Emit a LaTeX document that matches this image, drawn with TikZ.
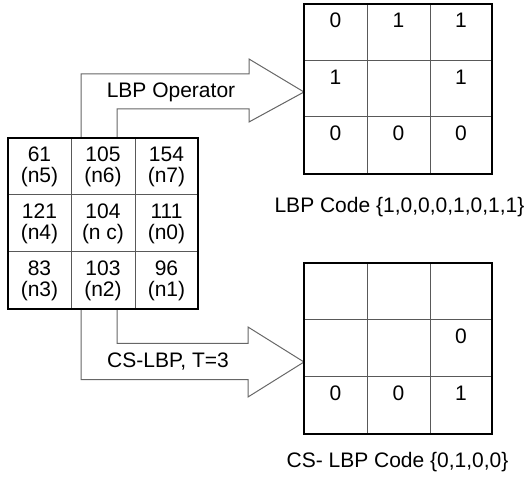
\documentclass[tikz,border=0pt]{standalone}
\usepackage{fontspec}
\setmainfont{Liberation Sans}
\begin{document}
\begin{tikzpicture}[x=1pt,y=-1pt,
  txt/.style={font=\fontsize{21}{21}\selectfont, inner sep=0pt, align=center},
  inner/.style={draw=black!65, line width=1pt},
  outer/.style={draw=black, line width=2.8pt, fill=none},
  blockarrow/.style={draw=black!60, line width=1pt, fill=white, line join=miter}]
\useasboundingbox (0,0) rectangle (528,481);

% ---- block arrows ----
\coordinate (a1l) at (81,138);
\coordinate (a1r) at (117,138);
\coordinate (tip1) at (304,92);
\draw[blockarrow] (a1l) -- (81,74) -- (249,74) -- (249,59) -- (tip1) -- (249,122) -- (249,109) -- (117,109) -- (a1r);
\coordinate (a2l) at (81,309);
\coordinate (a2r) at (117,309);
\coordinate (tip2) at (304,362);
\draw[blockarrow] (a2r) -- (117,343.5) -- (248,343.5) -- (248,327) -- (tip2) -- (248,397) -- (248,379.5) -- (81,379.5) -- (a2l);
\node[txt] (op1) at (171,92) {LBP Operator};
\node[txt] (op2) at (168,362) {CS-LBP, T=3};

% ---- source grid ----
\draw[inner] (71,138) -- (71,309) (135,138) -- (135,309) (8,195) -- (198,195) (8,252) -- (198,252);
\draw[outer] (8,138) rectangle (198,309);
\node[txt] (n5) at (39.5,166.5) {61\\(n5)};
\node[txt] (n6) at (103,166.5) {105\\(n6)};
\node[txt] (n7) at (166.5,166.5) {154\\(n7)};
\node[txt] (n4) at (39.5,223.5) {121\\(n4)};
\node[txt] (nc) at (103,223.5) {104\\(n c)};
\node[txt] (n0) at (166.5,223.5) {111\\(n0)};
\node[txt] (n3) at (39.5,280.5) {83\\(n3)};
\node[txt] (n2) at (103,280.5) {103\\(n2)};
\node[txt] (n1) at (166.5,280.5) {96\\(n1)};

% ---- LBP grid ----
\draw[inner] (367,4) -- (367,174) (430,4) -- (430,174) (304,61) -- (492,61) (304,117) -- (492,117);
\draw[outer] (304,4) rectangle (492,174);
\node[txt] (l11) at (335.5,20.5) {0};
\node[txt] (l12) at (398.5,20.5) {1};
\node[txt] (l13) at (461,20.5) {1};
\node[txt] (l21) at (335.5,77.5) {1};
\node[txt] (l23) at (461,77.5) {1};
\node[txt] (l31) at (335.5,133.5) {0};
\node[txt] (l32) at (398.5,133.5) {0};
\node[txt] (l33) at (461,133.5) {0};
\node[txt] (lbpcode) at (399.5,207) {LBP Code \{1,0,0,0,1,0,1,1\}};

% ---- CS-LBP grid ----
\draw[inner] (367,263) -- (367,434) (430,263) -- (430,434) (304,320) -- (492,320) (304,377) -- (492,377);
\draw[outer] (304,263) rectangle (492,434);
\node[txt] (c23) at (461,336.5) {0};
\node[txt] (c31) at (335.5,393.5) {0};
\node[txt] (c32) at (398.5,393.5) {0};
\node[txt] (c33) at (461,393.5) {1};
\node[txt] (cscode) at (397.5,462) {CS- LBP Code \{0,1,0,0\}};
\end{tikzpicture}
\end{document}
